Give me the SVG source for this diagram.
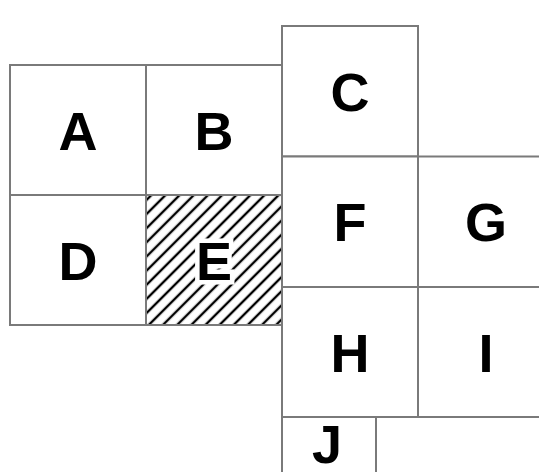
<svg xmlns="http://www.w3.org/2000/svg" width="539" height="472" viewBox="0 0 539 472">
<style>
.cell{fill:#fff;stroke:#7a7a7a;stroke-width:2}
.lbl{font-family:"Liberation Sans",Arial,sans-serif;font-weight:bold;font-size:54px;text-anchor:middle;fill:#000}
.halo{stroke:#fff;stroke-width:9;paint-order:stroke;stroke-linejoin:miter}
</style>
<defs>
<pattern id="hatch" patternUnits="userSpaceOnUse" width="10" height="10" patternTransform="rotate(45)">
<rect width="10" height="10" fill="#fff"/>
<line x1="5" y1="0" x2="5" y2="10" stroke="#000" stroke-width="2.4"/>
</pattern>
</defs>
<rect width="539" height="472" fill="#fff"/>
<g id="A"><rect class="cell" x="10" y="65" width="136" height="130"/><text class="lbl" x="78" y="149.5">A</text></g>
<g id="B"><rect class="cell" x="146" y="65" width="136" height="130"/><text class="lbl" x="214" y="149.5">B</text></g>
<g id="D"><rect class="cell" x="10" y="195" width="136" height="130"/><text class="lbl" x="78" y="279.5">D</text></g>
<g id="E"><rect class="cell" x="146" y="195" width="136" height="130" style="fill:url(#hatch)"/><text class="lbl halo" x="214" y="279.5">E</text></g>
<g id="C"><rect class="cell" x="282" y="26" width="136" height="130.5"/><text class="lbl" x="350" y="110.5">C</text></g>
<g id="F"><rect class="cell" x="282" y="156.5" width="136" height="130.5"/><text class="lbl" x="350" y="241">F</text></g>
<g id="G"><rect class="cell" x="418" y="156.5" width="136" height="130.5"/><text class="lbl" x="486" y="241">G</text></g>
<g id="H"><rect class="cell" x="282" y="287" width="136" height="130"/><text class="lbl" x="350" y="371.5">H</text></g>
<g id="I"><rect class="cell" x="418" y="287" width="136" height="130"/><text class="lbl" x="486" y="371.5">I</text></g>
<g id="J"><rect class="cell" x="282" y="417" width="94" height="130"/><text class="lbl" x="327" y="463">J</text></g>
<g id="K"><rect class="cell" x="376" y="417" width="178" height="130"/></g>
<g id="connectors"></g>
</svg>
